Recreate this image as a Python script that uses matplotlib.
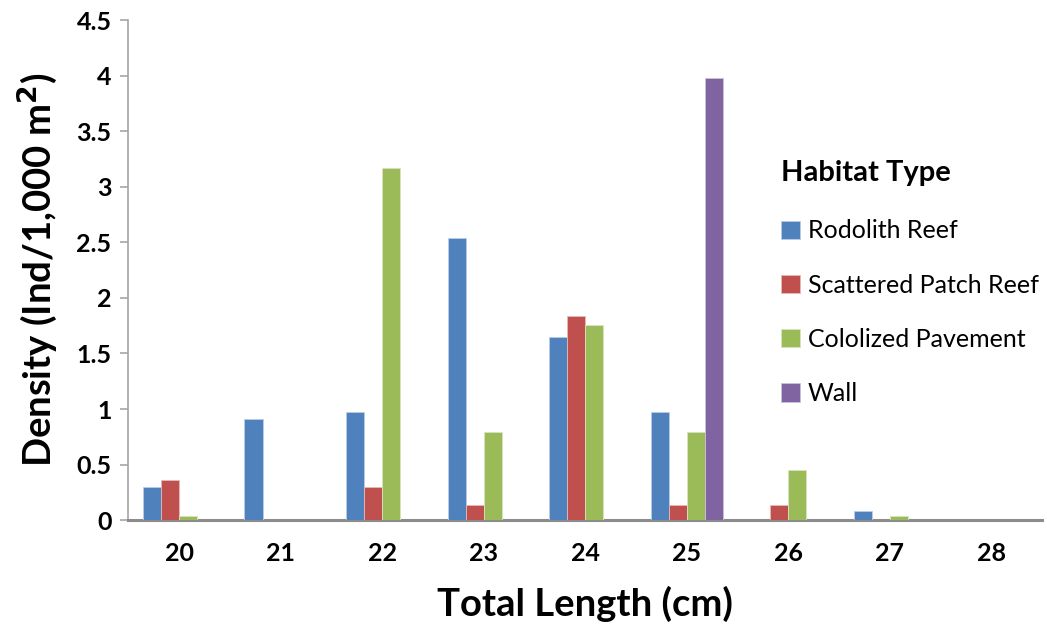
# Fish density by total length and habitat type

import numpy as np
import matplotlib.pyplot as plt

plt.rcParams['font.family'] = ['Lato', 'DejaVu Sans']

lengths = ['20', '21', '22', '23', '24', '25', '26', '27', '28']
habitats = ['Rodolith Reef', 'Scattered Patch Reef', 'Cololized Pavement', 'Wall']

rodolith = [0.30, 0.91, 0.97, 2.54, 1.65, 0.97, 0.0, 0.08, 0.0]
scattered = [0.36, 0.0, 0.30, 0.14, 1.84, 0.14, 0.14, 0.0, 0.0]
pavement = [0.04, 0.0, 3.17, 0.79, 1.76, 0.79, 0.45, 0.04, 0.0]
wall = [0.0, 0.0, 0.0, 0.0, 0.0, 3.98, 0.0, 0.0, 0.0]

series = [rodolith, scattered, pavement, wall]
colors = ['#4F81BD', '#C0504D', '#9BBB59', '#8064A2']
edges = ['#B9CDE5', '#E6B9B8', '#D7E4BD', '#CCC1DA']

fig = plt.figure(figsize=(10.47, 6.29), dpi=100)
ax = fig.add_axes([0.1225, 0.173, 0.873, 0.795])

x = np.arange(len(lengths))
w = 0.178
for i, (vals, c, ec, name) in enumerate(zip(series, colors, edges, habitats)):
    ax.bar(x + (i - 1.5) * w, vals, w, color=c, edgecolor=ec, linewidth=0.6,
           label=name, zorder=3)

ax.set_xlim(-0.5, len(lengths) - 0.5)
ax.set_ylim(0, 4.5)
ax.set_yticks(np.arange(0, 4.51, 0.5))
ax.set_yticklabels(['0', '0.5', '1', '1.5', '2', '2.5', '3', '3.5', '4', '4.5'])
ax.set_xticks(x)
ax.set_xticklabels(lengths)

for s in ['top', 'right']:
    ax.spines[s].set_visible(False)
ax.spines['left'].set_color('#A6A6A6')
ax.spines['left'].set_linewidth(1.2)
ax.spines['bottom'].set_color('#8C8C8C')
ax.spines['bottom'].set_linewidth(2.2)

ax.tick_params(axis='y', length=6, width=1.2, color='#A6A6A6', pad=6,
               labelsize=18)
ax.tick_params(axis='x', length=0, pad=16, labelsize=18)
for lab in ax.get_xticklabels() + ax.get_yticklabels():
    lab.set_fontweight('bold')

ax.set_xlabel('Total Length (cm)', fontsize=27.5, fontweight='bold', labelpad=15)
ax.set_ylabel('Density (Ind/1,000 m$^\\mathbf{2}$)', fontsize=27.5,
              fontweight='bold', labelpad=12)

leg = ax.legend(loc='upper left', bbox_to_anchor=(0.69, 0.765), frameon=False,
                title='Habitat Type', fontsize=18, labelspacing=1.25,
                handlelength=0.75, handleheight=0.75, handletextpad=0.3,
                alignment='left')
leg.get_title().set_fontsize(21)
leg.get_title().set_fontweight('bold')
leg._legend_box.sep = 24

plt.savefig('out.png', dpi=100)
